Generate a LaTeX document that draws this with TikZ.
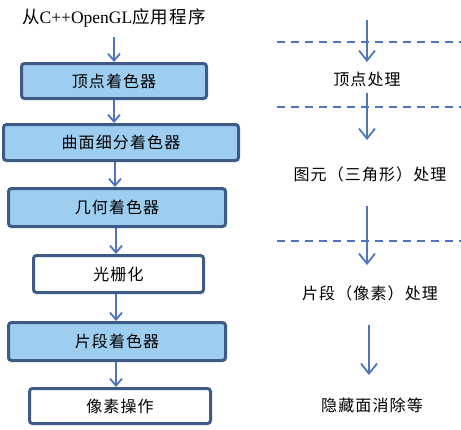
\documentclass[tikz,border=0pt]{standalone}
\usepackage{fontspec}
\setmainfont{Liberation Serif}
\newfontfamily\cjk{Noto Sans CJK SC}[LetterSpace=7]
\usetikzlibrary{arrows.meta}
\definecolor{boxfill}{RGB}{157,206,240}
\definecolor{boxline}{RGB}{62,90,134}
\definecolor{arrowblue}{RGB}{82,116,190}
\tikzset{
  stagebox/.style={draw=boxline, line width=3pt, rounded corners=3pt, fill=boxfill,
    inner sep=0pt, font=\fontsize{16}{19}\selectfont\cjk},
  plainbox/.style={stagebox, fill=white},
  flowarrow/.style={draw=arrowblue, line width=1.8pt, -{Straight Barb[length=7pt,width=12pt,line width=1.8pt]}},
  bigarrow/.style={draw=arrowblue, line width=1.8pt, -{Straight Barb[length=10pt,width=16pt,line width=1.8pt]}},
  divider/.style={draw=arrowblue, line width=1.8pt, dash pattern=on 8pt off 6pt},
  label/.style={inner sep=0pt, font=\fontsize{16}{19}\selectfont\cjk},
}
\begin{document}
\begin{tikzpicture}[x=1pt,y=-1pt]
\useasboundingbox (0,0) rectangle (461,429);
% left column
\node[inner sep=0pt, font=\fontsize{17.5}{20}\selectfont] (src) at (114,18) {{\cjk 从}C++OpenGL{\cjk 应用程序}};
\node[stagebox, minimum width=185pt, minimum height=35pt] (b1) at (114,81) {顶点着色器};
\node[stagebox, minimum width=235pt, minimum height=36pt] (b2) at (121,142.5) {曲面细分着色器};
\node[stagebox, minimum width=217pt, minimum height=38pt] (b3) at (117,207.5) {几何着色器};
\node[plainbox, minimum width=170pt, minimum height=37pt] (b4) at (118.5,274) {光栅化};
\node[stagebox, minimum width=217pt, minimum height=38pt] (b5) at (117,341.5) {片段着色器};
\node[plainbox, minimum width=181pt, minimum height=35pt] (b6) at (120,406) {像素操作};

\coordinate (a0s) at (114,37);
\draw[flowarrow] (a0s) -- (a0s |- b1.north);
\draw[flowarrow] (b1.south) -- (b1.south |- b2.north);
\draw[flowarrow] ([xshift=1pt]b1.south |- b2.south) -- ([xshift=1pt]b1.south |- b3.north);
\draw[flowarrow] ([xshift=2pt]b1.south |- b3.south) -- ([xshift=2pt]b1.south |- b4.north);
\draw[flowarrow] ([xshift=2pt]b1.south |- b4.south) -- ([xshift=2pt]b1.south |- b5.north);
\draw[flowarrow] ([xshift=2pt]b1.south |- b5.south) -- ([xshift=2pt]b1.south |- b6.north);

% right column
\coordinate (d1l) at (277,42);  \coordinate (d1r) at (461,42);
\coordinate (d2l) at (277,107); \coordinate (d2r) at (461,107);
\coordinate (d3l) at (277,241); \coordinate (d3r) at (461,241);
\draw[divider] (d1l) -- (d1r);
\draw[divider] (d2l) -- (d2r);
\draw[divider] (d3l) -- (d3r);

\node[label] (l1) at (367,79) {顶点处理};
\node[label] (l2) at (370,174) {图元（三角形）处理};
\node[label] (l3) at (370,293) {片段（像素）处理};
\node[label] (l4) at (372,405) {隐藏面消除等};

\coordinate (r1s) at (367,20);  \coordinate (r1e) at (367,62);
\coordinate (r2s) at (367,93);  \coordinate (r2e) at (367,140);
\coordinate (r3s) at (367,206); \coordinate (r3e) at (367,265);
\coordinate (r4s) at (369,325); \coordinate (r4e) at (369,375);
\draw[bigarrow] (r1s) -- (r1e);
\draw[bigarrow] (r2s) -- (r2e);
\draw[bigarrow] (r3s) -- (r3e);
\draw[bigarrow] (r4s) -- (r4e);
\end{tikzpicture}
\end{document}
